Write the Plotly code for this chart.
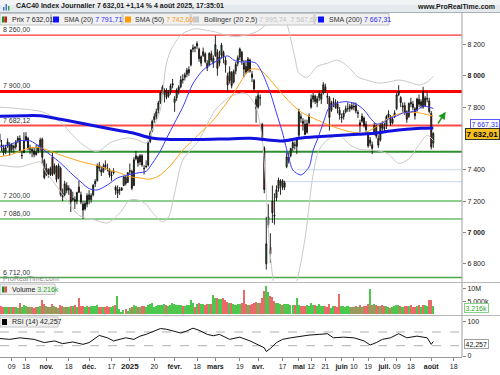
import pandas as pd
import plotly.graph_objects as go

W, H = 500, 375
def px(v): return v / W
def py(v): return 1 - v / H

# ---------------- dates / trading-day index ----------------
holidays = ["2024-12-25", "2024-12-26", "2025-01-01", "2025-04-18", "2025-04-21", "2025-05-01"]
all_days = [d.strftime("%Y-%m-%d") for d in pd.bdate_range("2024-10-01", "2025-08-18")
            if d.strftime("%Y-%m-%d") not in holidays]
pos = {d: i - 6 for i, d in enumerate(all_days)}   # 0 = 2024-10-09
N = 214
xs = [pos[d] for d in all_days[:N]]

# ---------------- OHLC (Oct 2024 -> 4 Aug 2025) ----------------
opens = [
 7630,7560,7540,7520,7550,7560,7530,7550,7545,7585,7600,7490,7510,7590,7600,7530,7530,7520,7510,7520,7540,7595,7460,
 7370,7400,7370,7480,7380,7420,7350,7410,7250,7240,7300,7270,7270,7210,7210,7200,7290,7240,7180,7150,7180,
 7240,7210,7240,7310,7330,7430,7400,7390,7430,7410,7400,7360,7380,7290,7250,7270,7270,7300,7350,7320,
 7390,7390,7300,7470,7480,7450,7490,7410,7420,7430,7580,7650,7720,7740,7780,7830,7900,7880,7900,7870,7900,7940,
 7830,7860,7910,7930,7980,7990,8010,8020,8070,8170,8180,8190,8170,8080,8130,8140,8080,8070,8140,8080,
 8130,8150,8080,8130,8150,8100,8000,7970,8020,7960,8030,8080,8120,8150,8080,8060,8030,8100,8010,7970,7850,
 7800,7860,7690,7540,6800,7050,6905,7200,7110,7220,7280,7300,7330,7290,7420,7460,7490,7540,7560,7550,
 7620,7740,7710,7690,7640,7700,7800,7850,7870,7830,7860,7850,7890,7930,7870,7860,7780,7830,7830,7820,7780,
 7730,7740,7770,7790,7790,7810,7800,7810,7760,7700,7710,7730,7690,7630,7570,7560,7640,7680,7600,7590,7690,
 7670,7680,7740,7740,7700,7740,7790,7880,7860,7800,7810,7770,7740,7830,7820,7790,7780,7850,7810,7900,7810,7850,7840,
 7760,7570]
highs = [
 7645,7590,7560,7560,7600,7575,7570,7560,7590,7615,7620,7520,7640,7640,7610,7560,7545,7540,7560,7560,7605,7605,7470,
 7440,7410,7420,7510,7440,7430,7440,7420,7280,7330,7320,7300,7280,7260,7230,7260,7330,7260,7200,7200,7250,
 7270,7250,7310,7340,7440,7450,7420,7440,7460,7440,7410,7390,7410,7300,7300,7290,7290,7360,7360,7385,
 7440,7400,7480,7520,7490,7500,7500,7430,7460,7580,7650,7720,7760,7790,7840,7900,7940,7920,7920,7910,7950,7980,
 7870,7920,7940,8000,8010,8020,8050,8060,8170,8200,8190,8220,8180,8130,8180,8150,8100,8150,8160,8130,
 8257,8170,8160,8210,8160,8120,8020,8060,8030,8040,8090,8130,8180,8160,8100,8100,8120,8110,8030,7980,7870,
 7900,7880,7700,7550,7100,7180,6995,7300,7250,7300,7350,7340,7340,7330,7510,7510,7540,7590,7580,7610,
 7790,7760,7730,7720,7720,7760,7880,7890,7880,7870,7900,7890,7960,7950,7890,7870,7840,7860,7850,7840,7800,
 7760,7780,7810,7830,7820,7830,7830,7830,7780,7720,7760,7740,7710,7640,7610,7580,7700,7690,7620,7700,7710,
 7700,7750,7780,7750,7740,7780,7890,7940,7870,7830,7830,7780,7830,7860,7840,7800,7860,7880,7850,7930,7870,7900,7860,
 7775,7640]
lows = [
 7555,7520,7490,7500,7540,7490,7510,7510,7530,7570,7515,7470,7505,7580,7525,7500,7480,7480,7490,7505,7520,7440,7340,
 7360,7350,7360,7360,7370,7320,7340,7230,7200,7230,7250,7240,7130,7200,7150,7180,7250,7180,7086,7140,7160,
 7180,7190,7230,7290,7325,7390,7360,7380,7400,7390,7350,7330,7370,7240,7220,7240,7265,7295,7300,7315,
 7370,7270,7295,7460,7420,7430,7420,7370,7410,7420,7570,7640,7700,7720,7760,7820,7880,7830,7850,7860,7880,7920,
 7770,7840,7880,7920,7950,7970,7990,8000,8060,8150,8150,8170,8090,8060,8120,8080,8030,8060,8090,8050,
 8120,8000,8060,8110,8080,8020,7900,7950,7920,7950,8010,8060,8100,8070,7990,8010,8020,8020,7960,7900,7700,
 7790,7810,7580,7250,6763,7030,6805,7060,7050,7200,7260,7240,7270,7270,7410,7440,7480,7520,7530,7500,
 7610,7700,7650,7620,7630,7690,7790,7830,7820,7800,7840,7820,7880,7890,7820,7650,7770,7800,7790,7760,7720,
 7700,7720,7760,7770,7770,7780,7780,7760,7730,7640,7700,7670,7640,7540,7550,7500,7620,7600,7540,7580,7650,
 7640,7660,7730,7680,7690,7730,7780,7870,7800,7770,7750,7700,7730,7800,7780,7720,7770,7800,7790,7790,7800,7830,7760,
 7530,7540]
closes = [
 7576,7552,7507,7541,7577,7521,7559,7541,7577,7602,7521,7492,7583,7613,7535,7538,7522,7498,7497,7543,7590,7480,7350,
 7409,7373,7407,7370,7425,7338,7426,7242,7226,7311,7269,7283,7195,7217,7198,7255,7257,7194,7143,7185,7235,
 7209,7236,7301,7326,7427,7410,7385,7423,7420,7409,7366,7367,7393,7269,7274,7272,7282,7355,7313,7381,
 7393,7282,7464,7489,7444,7490,7431,7408,7422,7571,7634,7710,7739,7771,7827,7892,7927,7906,7862,7896,7936,7950,
 7854,7909,7927,7973,7973,8006,8035,8040,8164,8178,8178,8206,8110,8122,8154,8090,8051,8143,8102,8111,
 8199,8047,8120,8197,8120,8070,7941,8026,7938,8028,8073,8115,8171,8094,8042,8022,8106,8030,7990,7916,7791,
 7874,7859,7598,7274,6927,7100,6863,7126,7104,7273,7335,7329,7286,7316,7482,7482,7536,7573,7555,7594,
 7770,7728,7696,7626,7694,7743,7850,7873,7836,7853,7886,7883,7943,7907,7864,7734,7828,7834,7798,7789,7751,
 7737,7763,7790,7790,7804,7791,7804,7775,7765,7684,7742,7683,7656,7553,7590,7537,7684,7615,7557,7692,7666,
 7663,7740,7756,7696,7723,7763,7878,7902,7829,7808,7766,7722,7823,7822,7798,7744,7851,7818,7834,7800,7857,7856,7772,
 7546,7632]

# volume in millions
volumes = [
 2.9,3.1,2.7,2.8,3.0,2.9,2.7,2.8,3.0,2.6,4.3,3.0,3.4,3.1,2.9,2.8,2.7,2.6,2.9,3.0,3.2,5.5,4.0,
 3.3,3.0,2.9,4.0,3.1,2.8,2.6,3.4,3.2,3.0,2.8,2.9,3.1,3.2,3.4,3.0,6.4,3.1,3.3,3.0,3.2,
 3.0,3.1,3.3,3.2,3.4,2.9,3.0,2.8,2.9,3.2,3.0,2.9,3.1,3.6,7.2,2.2,1.0,1.6,2.0,1.3,
 2.4,2.9,3.4,3.2,3.0,3.0,3.1,3.2,3.0,3.6,3.8,4.2,3.0,3.3,3.5,3.4,3.6,4.0,3.5,3.3,3.6,4.2,
 4.0,3.6,3.5,3.7,3.3,3.2,3.4,3.6,5.5,4.3,3.0,4.0,4.2,3.8,4.0,3.6,3.8,4.1,4.0,7.4,
 6.2,6.4,6.0,5.8,6.3,5.5,4.8,4.5,4.2,4.0,3.6,3.8,4.0,4.3,9.4,3.8,3.5,3.6,3.9,4.2,4.9,
 4.2,4.5,6.4,9.0,10.9,8.5,7.2,6.8,5.0,4.4,4.2,4.0,3.6,3.9,4.1,3.8,3.5,3.4,3.6,6.1,
 3.6,3.2,3.3,3.1,3.4,3.2,4.2,3.6,3.4,3.3,3.9,3.1,3.3,3.2,3.0,4.0,2.6,3.2,3.1,3.0,8.0,
 3.2,3.3,3.0,3.2,2.9,2.8,3.0,3.1,3.0,3.4,3.0,3.2,3.3,3.8,9.7,3.6,3.9,3.4,3.2,3.3,3.4,
 3.3,3.1,3.0,2.4,2.8,3.1,3.6,3.5,3.2,2.9,3.1,3.3,3.2,3.4,2.9,3.0,3.3,3.4,3.0,3.5,3.6,3.3,5.6,
 5.5,3.216]

# ---------------- indicators (index, value) ----------------
sma20_x = [-6,-1,4,9,14,19,24,29,34,38,42,47,52,57,62,66,69,73,76,80,84,89,94,99,106,109,113,117,120,123,127,130,133,136,138,142,146,148,150,153,156,160,164,169,173,176,179,182,186,189,192,196,199,202,205,207]
sma20_y = [7545,7560,7585,7585,7545,7495,7443,7380,7322,7280,7271,7303,7348,7367,7380,7390,7440,7520,7600,7700,7800,7950,8037,8082,8127,8101,8088,8090,8080,8018,7890,7762,7635,7480,7399,7367,7418,7526,7590,7700,7800,7826,7835,7820,7782,7731,7693,7699,7731,7743,7763,7769,7782,7807,7800,7791.71]

sma50_x = [-6,-1,9,14,24,34,44,48,53,58,63,68,73,79,84,89,99,109,117,122,127,132,137,142,150,158,166,173,179,186,192,199,207]
sma50_y = [7484,7494,7540,7540,7494,7452,7420,7399,7380,7356,7348,7340,7367,7443,7526,7590,7718,7890,8040,8037,7973,7897,7826,7769,7718,7675,7643,7635,7675,7737,7763,7765,7742.60]

sma200_x = [-6,5,15,24,33,43,52,60,68,76,92,105,117,125,133,141,150,170,178,186,194,201,207]
sma200_y = [7742,7745,7744,7722,7700,7675,7652,7633,7605,7595,7593,7597,7601,7592,7584,7601,7611,7627,7633,7648,7659,7665,7667.31]

bbup_x = [-6,4,15,20,24,30,35,40,43,48,52,57,62,66,69,73,76,79,84,90,96,100,105,110,115,120,125,130,133,136,139,141,145,150,155,160,165,170,175,180,185,190,195,200,204,207]
bbup_y = [7800,7790,7770,7740,7705,7620,7560,7520,7520,7570,7590,7603,7590,7570,7654,7782,8082,8185,8270,8300,8290,8280,8260,8250,8260,8280,8330,8480,8430,8290,8120,8018,7990,8060,8080,8100,8060,7993,7970,7954,7960,7973,7960,7941,7960,7995.74]

bblo_x = [-6,4,10,14,17,20,24,28,32,36,41,47,53,58,62,66,69,74,77,80,84,92,100,107,114,117,120,123,125,127,130,135,140,144,148,151,156,161,166,171,176,180,185,190,195,200,204,207]
bblo_y = [7430,7418,7440,7450,7380,7330,7260,7190,7120,7092,7079,7060,7124,7207,7207,7180,7130,7067,7098,7252,7462,7590,7782,7865,7890,7865,7800,7600,7250,6850,6600,6520,6690,6960,7370,7530,7600,7620,7560,7530,7526,7520,7500,7440,7470,7560,7620,7587.67]

rsi_x = [-6,-1,4,11,16,21,25,30,35,38,43,47,50,53,56,60,63,66,70,73,76,79,83,86,89,92,96,99,102,107,112,117,120,124,125,127,130,133,137,142,146,151,155,158,163,168,173,176,179,182,186,190,194,199,204,206,207]
rsi_y = [51,48.5,53,48.5,39,44,36,41,34,39,60,53,44,48.5,53,48.5,58,63,73,80,78,73,67,73,81,75,63,59,63,48.5,55,44,36,24,13,22,39,48.5,53,58,61,63,65,53,55,53,44,32,39,48.5,53,65,53,58,53,34,42.257]

# horizontal levels (value, colour, width)
levels = [(8260, "#ff3030", 1.2), (7900, "#ff0000", 3), (7682.12, "#ff4848", 2),
          (7515, "#2f8f2f", 2), (7200, "#8fcf8f", 2), (7086, "#8fcf8f", 2), (6712, "#4aa84a", 1.5)]
level_labels = [(8260, "8 260,00"), (7900, "7 900,00"), (7682.12, "7 682,12"),
                (7200, "7 200,00"), (7086, "7 086,00"), (6712, "6 712,00")]
gap_lines = [(7400, "2025-04-30"), (7324, "2025-04-22")]

price_ticks = [6800, 7000, 7200, 7400, 7800, 8000, 8200]
price_ticktext = ["6 800", "<b>7 000</b>", "7 200", "7 400", "7 800", "<b>8 000</b>", "8 200"]

tick_dates = ["2024-10-09","2024-10-18","2024-11-01","2024-11-18","2024-12-02","2024-12-17","2025-01-02",
              "2025-01-20","2025-02-03","2025-02-18","2025-03-03","2025-03-19","2025-04-01","2025-04-17",
              "2025-05-02","2025-05-12","2025-05-21","2025-06-02","2025-06-10","2025-06-19","2025-07-01",
              "2025-07-09","2025-07-18","2025-08-01","2025-08-18"]
tick_labels = ["09","18","<b>nov.</b>","18","<b>déc.</b>","17","<b style='font-size:8px'>2025</b>","20",
               "<b>févr.</b>","18","<b>mars</b>","19","<b>avr.</b>","17","<b>mai</b>","12","21","<b>juin</b>",
               "10","19","<b>juil.</b>","09","18","<b>août</b>","18"]

# ---------------- figure ----------------
fig = go.Figure()
XR = [-5.75, 221.1]
XD = [0, px(462)]

fig.add_trace(go.Scatter(x=bbup_x, y=bbup_y, mode="lines", line=dict(color="#c8c8c8", width=1, shape="spline", smoothing=0.8),
                         xaxis="x", yaxis="y", hoverinfo="skip"))
fig.add_trace(go.Scatter(x=bblo_x, y=bblo_y, mode="lines", line=dict(color="#c8c8c8", width=1, shape="spline", smoothing=0.8),
                         xaxis="x", yaxis="y", hoverinfo="skip"))

fig.add_trace(go.Candlestick(
    x=xs, open=opens, high=highs, low=lows, close=closes,
    increasing=dict(line=dict(color="#101010", width=0.9), fillcolor="#1f8a1f"),
    decreasing=dict(line=dict(color="#101010", width=0.9), fillcolor="#c81818"),
    whiskerwidth=0, xaxis="x", yaxis="y"))

fig.add_trace(go.Scatter(x=sma50_x, y=sma50_y, mode="lines", line=dict(color="#ffa31a", width=1, shape="spline", smoothing=0.8),
                         xaxis="x", yaxis="y"))
fig.add_trace(go.Scatter(x=sma20_x, y=sma20_y, mode="lines", line=dict(color="#3a3aff", width=1, shape="spline", smoothing=0.8),
                         xaxis="x", yaxis="y"))
fig.add_trace(go.Scatter(x=sma200_x, y=sma200_y, mode="lines", line=dict(color="#1212e0", width=3, shape="spline", smoothing=0.8),
                         xaxis="x", yaxis="y"))

vol_colors = ["#4cc84c" if c >= o else "#ea6a6a" for o, c in zip(opens, closes)]
fig.add_trace(go.Bar(x=xs, y=volumes, marker=dict(color=vol_colors, line=dict(width=0)), width=0.75,
                     xaxis="x2", yaxis="y2"))

fig.add_trace(go.Scatter(x=rsi_x, y=rsi_y, mode="lines", line=dict(color="#111111", width=1),
                         xaxis="x3", yaxis="y3"))

axis_common = dict(showgrid=False, zeroline=False, automargin=False)
fig.update_layout(
    width=W, height=H, margin=dict(l=0, r=0, t=0, b=0),
    paper_bgcolor="white", plot_bgcolor="white", showlegend=False,
    font=dict(family="Liberation Sans, Arial, sans-serif", size=7, color="#222"),
    bargap=0,
    xaxis=dict(domain=XD, range=XR, anchor="y", showticklabels=False, ticks="",
               rangeslider=dict(visible=False), **axis_common),
    xaxis2=dict(domain=XD, range=XR, anchor="y2", showticklabels=False, ticks="", **axis_common),
    xaxis3=dict(domain=XD, range=XR, anchor="y3", tickmode="array",
                tickvals=[pos[d] for d in tick_dates], ticktext=tick_labels, tickangle=0,
                ticks="outside", ticklen=3, tickcolor="#888", showline=True, linecolor="#999",
                tickfont=dict(size=7, color="#222"), **axis_common),
    yaxis=dict(domain=[py(281), py(12.5)], range=[6690, 8404], anchor="x", side="right",
               tickmode="array", tickvals=price_ticks, ticktext=price_ticktext,
               ticks="outside", ticklen=3, tickcolor="#888", tickfont=dict(size=7, color="#222"), **axis_common),
    yaxis2=dict(domain=[py(315), py(283)], range=[-0.27, 12.04], anchor="x2", side="right",
                tickmode="array", tickvals=[5, 10], ticktext=["5 000k", "10M"],
                ticks="outside", ticklen=3, tickcolor="#888", tickfont=dict(size=7, color="#222"), **axis_common),
    yaxis3=dict(domain=[py(357), py(316)], range=[-2.9, 116.6], anchor="x3", side="right",
                tickmode="array", tickvals=[0, 100], ticktext=["0", "100"],
                ticks="outside", ticklen=3, tickcolor="#888", tickfont=dict(size=7, color="#222"), **axis_common),
)

shapes = []
# title bar
shapes.append(dict(type="rect", xref="paper", yref="paper", x0=0, x1=1, y0=py(12.5), y1=1,
                   fillcolor="#e6eaee", line=dict(width=0), layer="above"))
shapes.append(dict(type="rect", xref="paper", yref="paper", x0=0, x1=1, y0=py(5), y1=1,
                   fillcolor="#f1f3f5", line=dict(width=0), layer="above"))
shapes.append(dict(type="line", xref="paper", yref="paper", x0=0, x1=1, y0=py(12.5), y1=py(12.5),
                   line=dict(color="#a8b0b8", width=1), layer="above"))
# logo bars
for (bx, btop, col) in [(3, 7, "#3a7fd0"), (5.5, 4, "#3a7fd0"), (8, 6, "#3aa03a")]:
    shapes.append(dict(type="rect", xref="paper", yref="paper", x0=px(bx), x1=px(bx + 1.5), y0=py(10.5), y1=py(btop),
                       fillcolor=col, line=dict(width=0), layer="above"))
# legend boxes of the price panel
for (x0, x1) in [(0, 50.5), (51.5, 122), (123, 190), (191, 314), (315, 389)]:
    shapes.append(dict(type="rect", xref="paper", yref="paper", x0=px(x0), x1=px(x1), y0=py(25), y1=py(13.5),
                       fillcolor="#f0f0f0", line=dict(color="#c4c4c4", width=1), layer="above"))
icons = [(2, 4.5, "#1f8a1f"), (4.5, 7, "#d01818"), (53, 59, "#1010ff"), (125, 131, "#ff9a00"),
         (193, 199, "#c8c8c8"), (318, 324, "#1010ff")]
for (x0, x1, col) in icons:
    shapes.append(dict(type="rect", xref="paper", yref="paper", x0=px(x0), x1=px(x1), y0=py(22.5), y1=py(16.5),
                       fillcolor=col, line=dict(width=0), layer="above"))
# volume / rsi legend boxes
shapes.append(dict(type="rect", xref="paper", yref="paper", x0=0, x1=px(55), y0=py(294.5), y1=py(284),
                   fillcolor="#f0f0f0", line=dict(color="#c4c4c4", width=1), layer="above"))
shapes.append(dict(type="rect", xref="paper", yref="paper", x0=px(2), x1=px(4.5), y0=py(292.5), y1=py(286.5),
                   fillcolor="#1f8a1f", line=dict(width=0), layer="above"))
shapes.append(dict(type="rect", xref="paper", yref="paper", x0=px(4.5), x1=px(7), y0=py(292.5), y1=py(286.5),
                   fillcolor="#e05050", line=dict(width=0), layer="above"))
shapes.append(dict(type="rect", xref="paper", yref="paper", x0=0, x1=px(58), y0=py(327), y1=py(317),
                   fillcolor="#f0f0f0", line=dict(color="#c4c4c4", width=1), layer="above"))
shapes.append(dict(type="rect", xref="paper", yref="paper", x0=px(2), x1=px(7), y0=py(325), y1=py(319),
                   fillcolor="#000000", line=dict(width=0), layer="above"))
# panel separators and axis line
for yy in (282.5, 315.5):
    shapes.append(dict(type="line", xref="paper", yref="paper", x0=0, x1=1, y0=py(yy), y1=py(yy),
                       line=dict(color="#b8b8b8", width=1)))
shapes.append(dict(type="line", xref="paper", yref="paper", x0=px(462), x1=px(462), y0=py(357), y1=py(12.5),
                   line=dict(color="#a0a0a0", width=1)))
# horizontal levels
for (v, col, wd) in levels:
    shapes.append(dict(type="line", xref="paper", yref="y", x0=0, x1=px(462), y0=v, y1=v,
                       line=dict(color=col, width=wd), layer="below"))
for (v, d) in gap_lines:
    shapes.append(dict(type="line", xref="x", yref="y", x0=pos[d], x1=XR[1], y0=v, y1=v,
                       line=dict(color="#c6d6f6", width=1), layer="below"))
# RSI 70 / 30
for v in (70, 30):
    shapes.append(dict(type="line", xref="paper", yref="y3", x0=0, x1=px(462), y0=v, y1=v,
                       line=dict(color="#b0b0b0", width=1, dash="dash"), layer="below"))
fig.update_layout(shapes=shapes)

ann = []
def text(xp, yp, t, size=7, color="#222", xanchor="left", yanchor="middle", **kw):
    d = dict(x=px(xp), y=py(yp), xref="paper", yref="paper", text=t, showarrow=False,
             xanchor=xanchor, yanchor=yanchor, font=dict(size=size, color=color))
    d.update(kw)
    ann.append(d)

text(14, 6.5, "<b>CAC40 Index Journalier 7 632,01 +1,14 % 4 août 2025, 17:35:01</b>", size=7, color="#1a1a1a")
text(497, 6.5, "<b>www.ProRealTime.com</b>", size=7, color="#1a1a1a", xanchor="right")
text(9.5, 19.5, "Prix 7 632,01", color="#222")
text(62, 19.5, "SMA (20) <span style='color:#2a2aff'>7 791,71</span>", color="#333")
text(133, 19.5, "SMA (50) <span style='color:#ff9a10'>7 742,60</span>", color="#333")
text(202, 19.5, "Bollinger (20 2,5) <span style='color:#c4c4c4'>7 995,74  7 587,67</span>", color="#333")
text(327, 19.5, "SMA (200) <span style='color:#2a2aff'>7 667,31</span>", color="#333")
text(9.5, 289.3, "Volume <span style='color:#2aa82a'>3.216k</span>", color="#222")
text(9.5, 322, "RSI (14) 42,257", color="#222")
text(0.5, 278.5, "ProRealTime.com", color="#8a8a8a")

for (v, lab) in level_labels:
    ann.append(dict(x=px(1), y=v, xref="paper", yref="y", text=lab, showarrow=False,
                    xanchor="left", yanchor="bottom", yshift=0, font=dict(size=7, color="#333")))

# right-side value boxes
text(499.5, 124, "7 667,31", color="#2a2aff", xanchor="right", bgcolor="#ffffff", bordercolor="#5a5aff", borderwidth=1, borderpad=0.5)
text(499.5, 133.5, "<b>7 632,01</b>", size=8, color="#000", xanchor="right", bgcolor="#f5c020", bordercolor="#333", borderwidth=1, borderpad=0.5)
text(464, 307.5, "3.216k", color="#2aa82a", bgcolor="#ffffff", bordercolor="#8ad08a", borderwidth=1, borderpad=0.5)
text(464, 343.5, "42,257", color="#111", bgcolor="#ffffff", bordercolor="#a0a0a0", borderwidth=1, borderpad=0.5)

# green arrow
ann.append(dict(x=px(445.7), y=py(111.7), xref="paper", yref="paper", ax=-8.7, ay=13.3, text="",
                showarrow=True, arrowhead=2, arrowsize=1, arrowwidth=1.5, arrowcolor="#1f9a1f"))

fig.update_layout(annotations=ann)
fig.write_html("out.html", config={"displayModeBar": False},
               post_script="document.body.style.margin='0px';")
